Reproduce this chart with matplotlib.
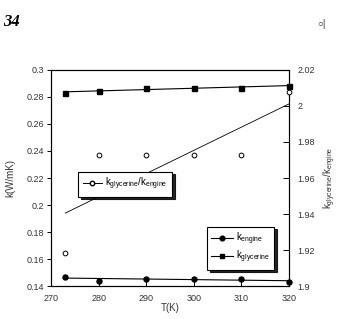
import numpy as np
import matplotlib
matplotlib.use("Agg")
import matplotlib.pyplot as plt
from matplotlib.lines import Line2D
from matplotlib.ticker import FuncFormatter

plt.rcParams['font.family'] = ['Liberation Sans', 'DejaVu Sans']
plt.rcParams['mathtext.fontset'] = 'custom'
plt.rcParams['mathtext.rm'] = 'Liberation Sans'
plt.rcParams['mathtext.it'] = 'Liberation Sans'

T = [273, 280, 290, 300, 310, 320]
k_engine = [0.1469, 0.1439, 0.1452, 0.1452, 0.1452, 0.1432]
k_glycerine = [0.2827, 0.2847, 0.2869, 0.2869, 0.2869, 0.2881]
ratio = [1.9185, 1.9728, 1.9728, 1.9728, 1.9728, 2.0076]
left_ticks = [0.14, 0.16, 0.18, 0.2, 0.22, 0.24, 0.26, 0.28, 0.3]
right_ticks = [1.9, 1.92, 1.94, 1.96, 1.98, 2.0, 2.02]
x_ticks = [270, 280, 290, 300, 310, 320]

fig = plt.figure(figsize=(3.47, 3.19), dpi=100)
ax = fig.add_axes([0.147, 0.1034, 0.686, 0.6772])
ax2 = ax.twinx()

Tarr = np.array(T, dtype=float)
xs = np.array([Tarr.min(), Tarr.max()])

fs = 6.5
tc = '#333333'
# engine
p = np.polyfit(Tarr, k_engine, 1)
ax.plot(xs, np.polyval(p, xs), color='k', lw=0.8)
ax.plot(T, k_engine, 'o', color='k', ms=3.6, clip_on=False, zorder=5)
# glycerine
p = np.polyfit(Tarr, k_glycerine, 1)
ax.plot(xs, np.polyval(p, xs), color='k', lw=0.8)
ax.plot(T, k_glycerine, 's', color='k', ms=3.6, clip_on=False, zorder=5)
# ratio
p = np.polyfit(Tarr, ratio, 1)
ax2.plot(xs, np.polyval(p, xs), color='k', lw=0.6)
ax2.plot(T, ratio, 'o', mfc='white', mec='k', mew=0.7, ms=3.4, clip_on=False, zorder=5)

ax.set_xlim(270, 320)
ax.set_ylim(0.14, 0.3)
ax2.set_ylim(1.9, 2.02)
ax.set_xticks(x_ticks)
ax.set_yticks(left_ticks)
ax2.set_yticks(right_ticks)
fmt = FuncFormatter(lambda v, pos: ('%g' % round(v, 4)))
ax.yaxis.set_major_formatter(fmt)
ax2.yaxis.set_major_formatter(fmt)
ax.xaxis.set_major_formatter(fmt)

ax.tick_params(axis='x', direction='in', length=4, width=0.7, labelsize=fs, labelcolor=tc, pad=6)
ax.tick_params(axis='y', direction='out', length=3, width=0.7, labelsize=fs, labelcolor=tc, pad=2)
ax2.tick_params(axis='y', direction='in', length=4, width=0.7, labelsize=fs, labelcolor=tc, pad=6)
ax.tick_params(top=False)
for a in (ax, ax2):
    for s in a.spines.values():
        s.set_linewidth(0.8)

ax.set_xlabel('T(K)', fontsize=7, color=tc)
ax.xaxis.set_label_coords(0.5, -0.08)
ax.set_ylabel('k(W/mK)', fontsize=7, labelpad=8, color=tc)
ax2.set_ylabel(r'k$_{\mathrm{glycerine}}$/k$_{\mathrm{engine}}$', fontsize=7, labelpad=5,
               rotation=90, color=tc)

shadow = {'color': 'k', 'alpha': 0.85}
h_ratio = [Line2D([], [], color='k', lw=0.7, marker='o', mfc='white', mec='k', ms=3.2)]
leg1 = ax2.legend(h_ratio, [r'k$_{\mathrm{glycerine}}$/k$_{\mathrm{engine}}$'],
                  loc='upper left', bbox_to_anchor=(0.115, 0.53), fontsize=7,
                  frameon=True, fancybox=False, edgecolor='k', framealpha=1,
                  shadow=shadow, handlelength=2.0, handletextpad=0.3,
                  borderpad=0.45, borderaxespad=0)
leg1.get_frame().set_linewidth(0.8)
h2 = [Line2D([], [], color='k', lw=0.8, marker='o', ms=3.4),
      Line2D([], [], color='k', lw=0.8, marker='s', ms=3.4)]
leg2 = ax2.legend(h2, [r'k$_{\mathrm{engine}}$', r'k$_{\mathrm{glycerine}}$'],
                  loc='upper left', bbox_to_anchor=(0.655, 0.275), fontsize=7,
                  frameon=True, fancybox=False, edgecolor='k', framealpha=1,
                  shadow=shadow, handlelength=2.2, handletextpad=0.3,
                  borderpad=0.45, borderaxespad=0, labelspacing=0.15)
leg2.get_frame().set_linewidth(0.8)
ax2.add_artist(leg1)

fig.text(0.008, 0.93, '34', fontsize=12, fontweight='bold', fontstyle='italic',
         family='Liberation Serif', va='center', ha='left')
fig.text(0.915, 0.925, '\u25cb|', fontsize=7, va='center', ha='left', color='#333333')

fig.savefig('out.png', dpi=100)
